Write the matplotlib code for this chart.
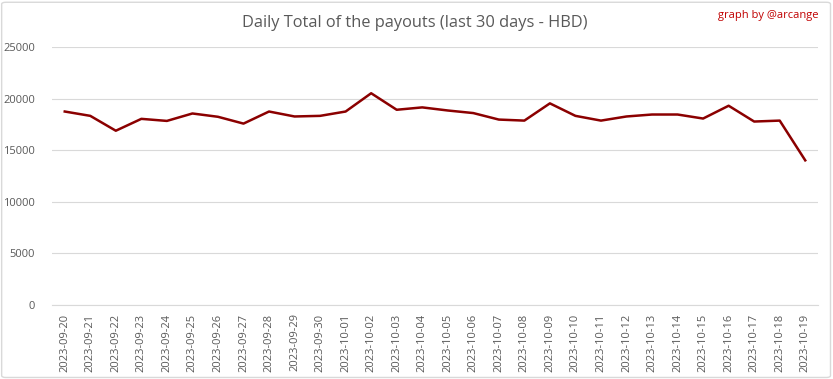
import matplotlib
matplotlib.use('Agg')
import matplotlib.pyplot as plt
from matplotlib.patches import FancyBboxPatch

# data
dates = [
    '2023-09-20', '2023-09-21', '2023-09-22', '2023-09-23', '2023-09-24',
    '2023-09-25', '2023-09-26', '2023-09-27', '2023-09-28', '2023-09-29',
    '2023-09-30', '2023-10-01', '2023-10-02', '2023-10-03', '2023-10-04',
    '2023-10-05', '2023-10-06', '2023-10-07', '2023-10-08', '2023-10-09',
    '2023-10-10', '2023-10-11', '2023-10-12', '2023-10-13', '2023-10-14',
    '2023-10-15', '2023-10-16', '2023-10-17', '2023-10-18', '2023-10-19',
]
payouts = [
    18750, 18330, 16890, 18040, 17840,
    18560, 18240, 17580, 18750, 18270,
    18330, 18750, 20520, 18920, 19150,
    18850, 18600, 17970, 17870, 19540,
    18330, 17870, 18270, 18460, 18460,
    18070, 19310, 17780, 17870, 14020,
]
yticks = [0, 5000, 10000, 15000, 20000, 25000]

plt.rcParams['font.family'] = ['Open Sans', 'DejaVu Sans']

fig = plt.figure(figsize=(8.33, 3.79), dpi=100)
ax = fig.add_axes([0.0624, 0.195, 0.9196, 0.681])

x = list(range(len(dates)))
ax.plot(x, payouts, color='#8b0000', linewidth=1.8, solid_joinstyle='round')

ax.set_xlim(-0.5, len(dates) - 0.5)
ax.set_ylim(0, 25000)
ax.set_yticks(yticks)
ax.set_yticklabels([str(v) for v in yticks])
ax.set_xticks(x)
ax.set_xticklabels(dates, rotation=90)
ax.tick_params(axis='both', length=0, labelsize=8, colors='#595959')
ax.tick_params(axis='y', pad=12)
ax.tick_params(axis='x', pad=6)

ax.grid(axis='y', color='#d9d9d9', linewidth=0.8)
ax.set_axisbelow(True)
for side in ['top', 'right', 'left']:
    ax.spines[side].set_visible(False)
ax.spines['bottom'].set_color('#d9d9d9')

fig.text(0.498, 0.938, 'Daily Total of the payouts (last 30 days - HBD)',
         ha='center', va='center', fontsize=11.8, color='#595959')
fig.text(0.982, 0.958, 'graph by @arcange', ha='right', va='center',
         fontsize=8, color='#c00000')

# light gray frame around the chart
fig.patches.append(FancyBboxPatch((0.002, 0.004), 0.995, 0.99,
                                  boxstyle='round,pad=0,rounding_size=0.005',
                                  transform=fig.transFigure, fill=False,
                                  edgecolor='#d9d9d9', linewidth=1))

fig.savefig('out.png', dpi=100)
